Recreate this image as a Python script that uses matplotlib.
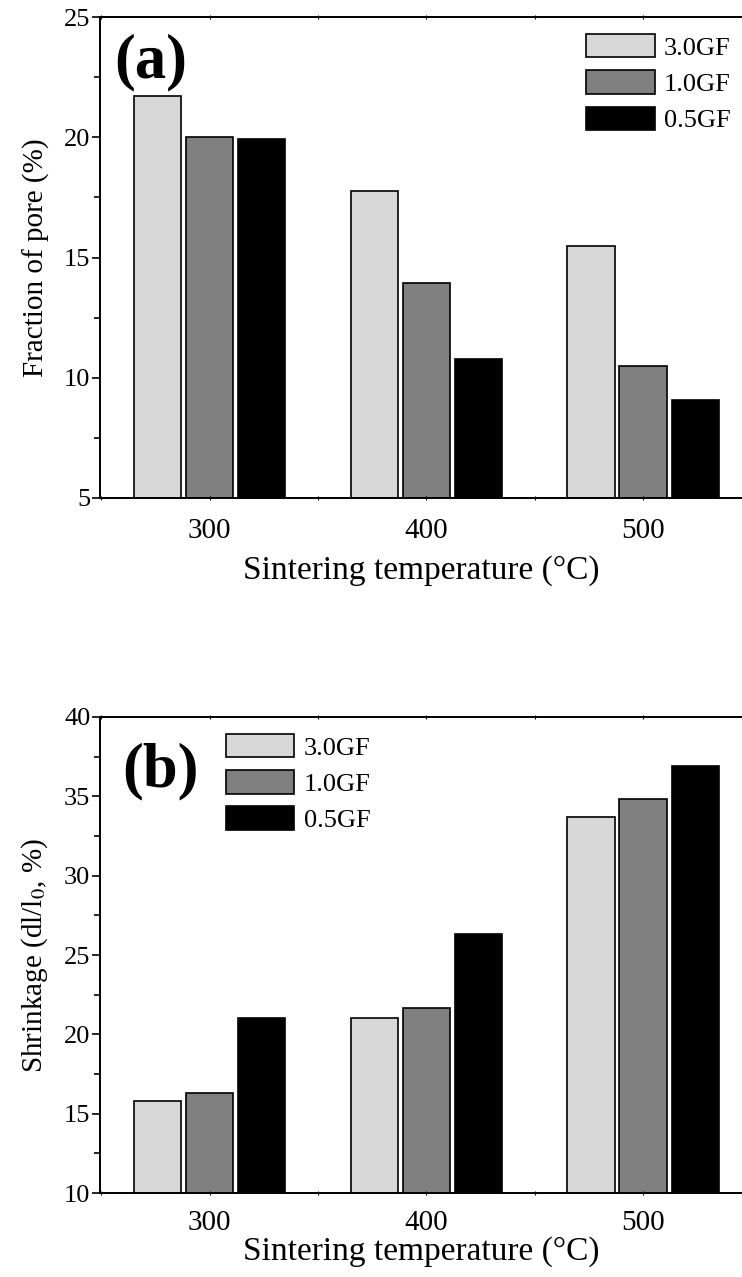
import numpy as np
import matplotlib
matplotlib.use("Agg")
import matplotlib.pyplot as plt
from matplotlib.ticker import MultipleLocator

plt.rcParams['font.family'] = ['Liberation Serif', 'DejaVu Serif']
plt.rcParams['mathtext.fontset'] = 'stix'

# data
temps = [300, 400, 500]
series = ['3.0GF', '1.0GF', '0.5GF']
colors = ['#d8d8d8', '#808080', '#000000']

pore_30 = [21.72, 17.78, 15.48]
pore_10 = [20.00, 13.94, 10.47]
pore_05 = [19.92, 10.79, 9.06]

shrink_30 = [15.81, 21.01, 33.72]
shrink_10 = [16.29, 21.68, 34.81]
shrink_05 = [21.02, 26.35, 36.90]

fig = plt.figure(figsize=(7.42, 12.77), dpi=100)
ax1 = fig.add_axes([100 / 742, (1277 - 498) / 1277, 1 - 100 / 742, 481 / 1277])
ax2 = fig.add_axes([100 / 742, (1277 - 1193) / 1277, 1 - 100 / 742, 476 / 1277])


def draw(ax, vals, ylim, ylabel, tag, leg_x, tag_x, tag_y, tickpad, xlabpad):
    x = np.array(temps)
    offsets = [-24, 0, 24]
    for vv, name, col, off in zip(vals, series, colors, offsets):
        ax.bar(x + off, np.array(vv) - ylim[0], bottom=ylim[0], width=22,
               color=col, edgecolor='black', linewidth=1.2, label=name)
    ax.set_xlim(249.5, 545.5)
    ax.set_ylim(*ylim)
    ax.set_xticks(temps)
    ax.xaxis.set_minor_locator(MultipleLocator(50))
    ax.yaxis.set_major_locator(MultipleLocator(5))
    ax.yaxis.set_minor_locator(MultipleLocator(2.5))
    ax.spines['right'].set_visible(False)
    for s in ['left', 'bottom', 'top']:
        ax.spines[s].set_linewidth(1.4)
    ax.tick_params(axis='y', which='major', direction='out', length=6, width=1.2,
                   labelsize=19, pad=1)
    ax.tick_params(axis='y', which='minor', direction='out', length=4, width=1.2)
    ax.tick_params(axis='x', which='both', direction='inout', length=3, width=0.8,
                   top=True, labelsize=21, pad=tickpad)
    ax.set_xlabel('Sintering temperature (°C)', fontsize=24, labelpad=xlabpad)
    ax.set_ylabel(ylabel, fontsize=21, labelpad=10)
    ax.text(tag_x, tag_y, tag, transform=ax.transAxes, fontsize=45,
            fontweight='bold', ha='left', va='center')
    ax.legend(loc='upper left', bbox_to_anchor=(leg_x, 0.965), frameon=False,
              fontsize=19, handlelength=2.6, handleheight=1.0,
              labelspacing=0.4, handletextpad=0.35, borderpad=0, borderaxespad=0)


draw(ax1, [pore_30, pore_10, pore_05], (5, 25), 'Fraction of pore (%)', '(a)',
     0.757, 0.022, 0.905, 13, 8)
draw(ax2, [shrink_30, shrink_10, shrink_05], (10, 40), r'Shrinkage (dl/l$_0$, %)', '(b)',
     0.196, 0.035, 0.885, 11, 0)

fig.savefig('out.png', dpi=100)
